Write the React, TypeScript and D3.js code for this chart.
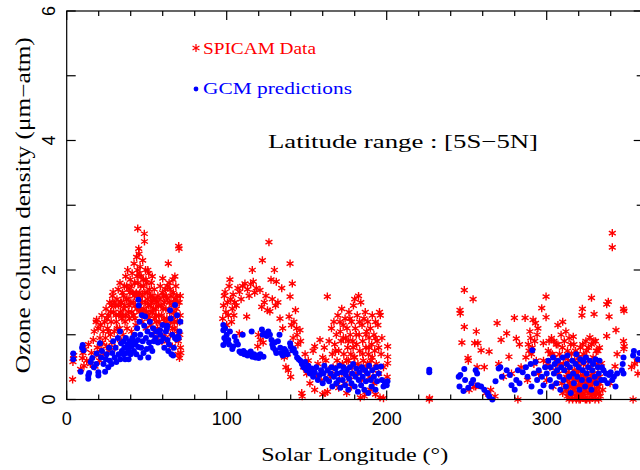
import * as d3 from 'd3'

// [Ls (deg), ozone column (um-atm)]
const spicam: [number, number][] = [
  [3.7,0.31],[3.9,0.58],[4.2,0.63],[4.4,0.68],[8.7,0.47],[9.8,0.64],[10.2,0.72],[10.8,0.52],[11.5,0.78],[12.5,0.6],
  [13.6,0.85],[14.8,0.55],[15.5,0.72],[16.6,0.92],[17.2,1.05],[17.7,0.51],[18.4,1.2],[18.7,1.23],[19.1,0.8],[19.6,1.1],[19.9,0.68],
  [20.5,0.6],[20.8,0.95],[21.2,1.15],[21.5,0.78],[22,1.3],[22.4,0.88],[22.8,1.05],[23.3,0.7],[23.7,1.2],[24.2,0.95],
  [24.6,1.4],[25,0.82],[25.5,1.1],[26,1.3],[26.4,0.75],[26.9,1.5],[27.3,1.0],[27.8,1.2],[28.2,0.88],[28.6,1.6],
  [29,1.66],[29.3,1.35],[29.7,1.05],[30.1,0.8],[30.5,1.45],[31,1.2],[31.4,1.55],[31.8,0.95],[32.2,1.7],[32.6,1.3],
  [33,1.1],[33.3,1.8],[33.7,1.5],[34.1,0.9],[34.5,1.25],[34.9,1.65],
  [35.3,1.0],[35.7,1.4],[36.1,1.75],[36.5,1.2],[36.9,1.9],[37.3,1.55],[37.7,1.1],[38.1,2.0],[38.5,1.35],[38.9,1.7],
  [39.3,1.25],[39.7,1.85],[40.1,1.5],[40.5,1.05],[40.9,1.95],[41.3,1.65],[41.7,1.3],[42.1,2.1],[42.5,1.8],[42.9,1.45],
  [43.3,1.15],[43.7,2.2],[44,1.9],[44.4,2.64],[44.7,1.6],[45,2.33],[45.2,2.25],[45.5,1.35],[45.9,2.05],[46.3,1.75],
  [46.7,1.5],[47.1,1.2],[47.5,2.15],[47.9,1.85],[48.3,1.4],[48.5,2.56],[48.6,2.44],[48.9,1.65],[49.3,2.0],[49.7,1.1],
  [50.1,1.8],[50.5,1.55],[50.9,1.3],[51.3,1.95],[51.7,1.7],[52.1,1.45],[52.5,1.15],[52.9,1.8],[53.3,1.6],[53.7,1.35],
  [54.1,1.0],[54.5,1.55],[54.9,1.25],
  [55.5,1.4],[56,1.2],[56.5,0.95],[57,1.6],[57.5,1.3],[58,1.05],[58.5,1.75],[59,1.45],[59.5,0.9],[60,1.87],
  [60.4,1.6],[60.8,1.25],[61.2,1.0],[61.6,1.7],[62,1.4],[62.4,0.9],[62.8,1.55],[63.3,1.15],[63.5,2.1],[64,1.8],
  [64.4,1.35],[64.8,1.0],[65.2,1.6],[65.6,1.25],[66,0.82],[66.4,1.85],[66.8,1.5],[67.2,1.1],[67.6,1.9],[68,1.3],
  [68.4,0.95],[68.8,1.6],[69.2,1.2],[69.6,0.7],[70,2.37],[70.2,2.33],[70.3,1.5],[70.5,0.64],[70.7,1.0],[70.9,1.3],
  [71.1,0.8],[71.3,0.72],
  [25.2,1.25],[26.2,1.05],[27.5,1.35],[28,1.45],[29.5,1.5],[30.8,1.3],[31.6,1.1],[32.4,1.45],[33.5,1.35],[34.3,1.5],
  [35,1.3],[35.5,1.6],[36.3,1.45],[37,1.3],[37.5,1.75],[38.3,1.55],[39,1.45],[39.5,1.65],[40.3,1.75],[40.7,1.35],
  [41.5,1.5],[42.3,1.6],[42.7,1.25],[43.5,1.65],[43.9,1.4],[44.2,2.0],[44.6,1.8],[45.3,1.95],[45.7,1.65],[46.1,1.4],
  [46.5,1.9],[47.3,1.6],[47.7,1.35],[48.1,1.75],[49.1,1.5],[49.5,1.85],[49.9,1.35],[50.3,1.65],[50.7,2.0],[51.1,1.45],
  [51.5,1.25],[52.3,1.6],[52.7,1.35],[53.1,1.5],[53.5,1.9],[54.3,1.4],[54.7,1.7],[55.2,1.55],[55.8,1.3],[56.3,1.5],
  [56.8,1.1],[57.3,1.45],[57.8,1.2],[58.3,1.55],[59.3,1.3],[59.8,1.65],[60.2,1.4],[61,1.5],[61.4,1.2],[62.2,1.6],
  [62.6,1.25],[63,1.75],[64.2,1.5],[64.6,1.7],[65,1.2],[65.8,1.45],[66.2,1.1],[66.6,1.65],[67,1.35],[67.4,1.2],
  [67.8,1.55],[68.2,1.75],[68.6,1.4],[69,1.05],[69.4,1.5],[69.8,0.9],[70.6,1.2],[71,1.6],
  [97.5,1.25],[98,1.45],[98.5,1.6],[99,1.66],[99.5,1.35],[100,1.15],[100.5,1.5],[101,1.3],[101.5,1.75],[102,1.85],
  [102.5,1.55],[103,1.2],[103.5,1.4],[104,1.62],[104.5,1.3],[105,1.5],[106,1.45],[107,1.72],[107.9,1.02],[108,1.66],
  [109,1.55],[110,1.75],[111.4,1.79],[112.5,1.28],[113,1.7],[114,1.6],[115,1.78],[116,2.0],[116.6,1.82],[117.5,1.65],
  [118.5,1.72],[119.4,0.82],[119.8,1.0],[120.8,1.69],[121,0.92],[121.9,1.43],[122.3,2.15],[122.8,0.88],[123.5,1.5],[124.5,1.6],
  [125.5,1.38],[126.4,2.43],[127,1.36],[127.7,1.85],[128.5,1.55],[129.8,2.0],[130.5,1.45],[131,1.82],[132,1.5],[133.3,1.25],
  [134.4,1.72],[135,1.1],[136,0.65],[137,0.5],[138,0.7],[138.5,0.45],[139,1.28],[139.6,2.1],[139.6,1.59],[140,0.35],
  [140.5,1.15],[141,1.79],[141.5,0.95],[142,1.2],[143,1.38],[143.7,1.1],[144,1.0],[144.5,0.85],[145.8,1.07],[146.2,0.9],
  [146.9,0.1],[147.2,0.05],[148,0.5],[149,0.7],[150,0.4],[151,0.6],[152,0.25],[153,0.45],[154,0.75],[155,0.82],
  [156,0.35],[157,0.55],[158.3,0.92],[159,0.3],[160,0.65],[161,0.8],[161.4,0.1],[162,0.6],[162.9,1.59],[163.5,0.45],
  [164,0.9],[165,0.35],[165.5,1.1],[166,0.7],[166.5,0.5],[167,1.2],[167.5,0.85],[168,0.4],[168.5,1.0],[169,0.6],
  [169.5,1.3],[170,0.75],[170.5,0.3],[171,1.05],[171.5,0.9],[171.9,1.4],[172.3,0.55],[172.8,1.15],[173.2,0.7],[173.6,0.25],
  [174,1.25],[174.4,0.95],[174.8,0.45],[175.2,1.1],[175.6,0.8],[176,0.6],[176.4,1.35],[176.8,0.35],[177.2,1.0],[177.6,0.7],
  [178,1.2],[178.4,0.5],[178.8,0.9],[179.2,1.45],[179.6,0.65],[180,1.55],[180.4,1.1],[180.8,0.4],[181.2,0.85],[181.6,1.3],
  [182,0.55],[182.4,1.6],[182.8,1.0],[183.2,0.75],[183.5,0.03],[183.8,1.5],[184.2,0.3],[184.6,1.15],[185,0.9],[185.4,0.6],
  [185.8,1.25],[186.2,0.45],[186.6,1.35],[187,0.8],[187.4,1.05],[187.8,0.5],[188.2,1.2],[188.6,0.7],[189,0.95],[189.4,0.35],
  [189.8,1.1],[190.2,0.6],[190.6,0.85],[191,1.3],[191.5,0.45],[192,1.0],[192.5,0.75],[193,1.2],[193.5,0.55],[194,0.9],
  [194.5,1.15],[195,0.4],[195.5,1.35],[195.8,0.03],[196,1.3],[196.5,0.7],[197,0.95],[198,0.5],[199,0.25],[200.6,0.82],
  [200.6,0.66],[200.6,0.56],[200.3,0.35],
  [155,0.15],[160,0.08],[163,0.12],[170,0.18],[175,0.1],[178,0.2],[186,0.05],[187,0.12],[190,0.15],[193,0.08],[198,0.02],
  [168,0.75],[170.8,1.2],[173,0.95],[175,0.6],[177,1.25],[179,0.8],[181,1.0],[183,1.2],[185,0.7],[187,1.0],
  [189,0.8],[191,0.65],[193,0.95],[195,0.8],[172,0.4],[176,0.9],[180,0.65],[184,0.5],[188,0.55],[192,0.25],
  [226.6,0.0],[226.8,0.02],
  [245.8,1.38],[246,1.33],[247,0.88],[248.5,1.69],[248.5,1.12],[250.8,0.64],[251,0.6],[251.5,0.15],[254,1.55],[254.5,0.2],
  [255.6,0.2],[255,0.87],[256,1.05],[256.5,0.5],[257,0.87],[259,0.76],[261,0.5],[262,0.1],[264,0.74],[265,0.15],
  [267.7,0.05],[269,1.18],[270,0.55],[271.5,0.92],[273,0.35],[275,1.02],[276.4,0.66],[278,0.4],[279.8,1.26],[281,0.94],
  [282,0.0],[283,0.85],[284,0.5],[286.5,1.26],[287,0.65],[288,0.3],[289,0.75],[290,0.95],[291,0.8],[291.5,1.23],
  [292,0.55],[293,1.18],[294,1.0],[294.5,1.1],[295,0.4],[296.9,1.41],[297.9,0.87],[298,0.6],[299.6,1.59],[299.6,1.27],
  [300,0.3],[301,0.75],[302,0.5],[303,0.95],[304,0.2],[305,0.65],[306,0.85],[307,1.15],[307.5,0.4],[308,0.7],
  [309,1.0],[309.5,0.25],[310,1.2],[310.5,0.55],[311,0.9],[312,1.05],[312.5,0.35],[313,0.75],[313.5,0.1],[314,0.5],
  [314.5,0.2],[315,0.85],[315.5,0.05],[316,0.4],[316.6,0.97],[317,0.15],[317.5,0.6],[318,0.3],[318.5,0.0],[319,0.7],
  [319.5,0.2],[320,0.45],[320.5,0.1],[321,0.8],[321.5,0.25],[322,1.3],[322.3,1.4],[322.6,0.05],[323,0.55],[323.5,0.35],
  [324,0.15],[324.5,0.9],[325,0.0],[325.5,0.5],[326,0.8],[326.5,0.2],[327,0.96],[327.5,0.1],[328,1.57],[328.5,0.4],
  [329,0.65],[329.6,1.32],[330,0.3],[330.5,0.05],[331,0.75],[331.5,0.2],[332,0.5],[332.5,0.0],[333,0.35],[334.3,0.56],
  [335,0.15],[337.5,1.47],[337.5,0.98],[338.5,1.51],[339,1.28],[339.6,0.25],[341,2.57],[341,2.35],[342.7,0.51],[343.3,1.07],
  [344,0.7],[348,1.4],[348.3,1.37],[348,0.9],[348.5,0.82],[348.2,0.78],[353,0.5],[354,0.0],[355,0.55],[356.5,0.6],[357,0.4],
  [288.5,0.85],[289.5,1.05],[290.5,0.7],[292.5,0.9],[293.5,0.6],[303.5,0.7],[304.5,0.9],[306.5,0.55],[311.5,0.65],[314,0.95],
  [318,0.75],[320,0.65],[323,0.7],[326,0.6],[328,0.85],[330.5,0.9],[332,0.75],[319,0.05],[321,0.0],[324,0.02],
  [327,0.0],[329,0.08],[331,0.12],[333.5,0.05],[316,0.1],[314,0.0],[320,0.3],[322,0.18],[325,0.25],[328,0.15],
  [312,0.15],[312.8,0.05],[313.2,0.3],[313.8,0.4],[314.2,0.25],[314.8,0.1],[315.2,0.35],[315.8,0.2],[316.2,0.0],[316.8,0.3],
  [317.2,0.45],[317.8,0.05],[318.2,0.2],[318.8,0.4],[319.2,0.1],[319.8,0.3],[320.2,0.0],[320.8,0.2],[321.2,0.35],[321.8,0.05],
  [322.2,0.25],[322.8,0.4],[323.2,0.1],[323.8,0.3],[324.2,0.0],[324.8,0.2],[325.2,0.35],[325.8,0.1],[326.2,0.28],[326.8,0.0],
  [327.2,0.2],[327.8,0.35],[328.2,0.05],[328.8,0.25],[329.2,0.4],[329.8,0.15],[330.2,0.0],[330.8,0.3],[331.2,0.1],[331.8,0.35],
  [332.2,0.2],[332.8,0.1],[333.2,0.25],[310,0.1],[311,0.3],
  [300.5,0.55],[301.5,0.9],[302.5,0.7],[305.5,0.45],[307,0.85],[308.5,0.55],[309.8,0.8],[311.8,0.45],[313.5,0.6],[315.5,0.7],
  [317,0.85],[319.5,0.55],[321.5,0.6],[322.5,0.85],[324,0.65],[325,0.75],[327.5,0.5],[329.5,0.9],[331.5,0.55],[333,0.8],
]

const gcm: [number, number][] = [
  [4.1,0.71],[4.1,0.62],[8.7,0.43],[9.6,0.8],[10,0.84],[10.5,0.76],[13.5,0.37],[13.5,0.32],[14,0.41],[15,0.58],
  [16,0.64],[17,0.5],[18.5,0.55],[18.7,0.71],[19.8,0.42],[19.8,0.37],
  [20.8,0.87],[21.5,0.65],[22,0.75],[23,0.55],[24,0.43],[24.5,0.62],[25,0.7],[26,0.5],[26.5,0.8],[27,0.6],
  [28,0.55],[28.5,0.72],[29,0.9],[30,0.65],[30.5,0.8],[31,0.58],[32,0.95],[32.5,0.7],[33.3,1.05],[33.5,0.62],
  [34,0.87],[34.5,0.75],[35.6,0.7],[35.6,0.9],[36,0.8],[36.5,0.62],[37,0.95],[37.5,0.72],[38,0.85],[38.7,0.62],
  [38.7,0.77],[39.5,0.9],[40,0.7],
  [40.5,0.82],[41,0.95],[41.6,0.89],[42,0.75],[42.5,1.0],[43,0.85],[43.5,0.7],[44,1.1],[44.5,0.92],[44.8,0.81],
  [44.8,1.54],[45,1.45],[45.5,1.2],[46,0.65],[46,1.0],[46.5,0.8],[47,1.3],[47.5,0.9],[48,0.72],[48.5,1.14],
  [49,1.28],[49.5,0.95],[50,0.78],[50.5,1.05],[51,0.65],[51.5,0.88],[52,1.2],[52.5,0.8],[53,1.0],[53.5,0.75],
  [54,1.1],[54.5,0.9],
  [55.5,0.95],[56,1.05],[57,0.88],[58.3,1.07],[58.5,1.0],[59,0.9],[60,1.15],[60.5,0.95],[61,0.8],[62,1.05],
  [62.6,1.1],[62.8,1.14],[63,0.92],[63.5,0.75],[64,0.85],[64.6,1.38],[65,1.25],[65.5,0.7],[66,1.0],[66.5,0.68],
  [67,0.8],[67.7,1.46],[67.7,0.95],[68.5,0.93],[69,1.3],[69.5,0.97],[70,0.95],[70.5,1.05],[71,1.2],
  [97.9,1.15],[97.9,1.07],[97.9,0.84],[98.5,0.95],[99,1.1],[99.5,0.9],[100,1.0],[101,0.92],[101.5,0.85],[102,1.05],
  [103.5,0.78],[104,0.82],[105,0.97],[106,0.9],[107,0.85],[108,0.74],[109,0.72],[110,1.0],[110.5,0.75],[111,0.7],
  [112,0.72],[113,0.68],[114,0.7],[115,0.74],[115.6,1.05],[116,0.66],[117,0.7],[118,0.65],[119,0.68],[120,0.64],
  [121,0.7],[122,1.08],[122.5,1.0],[123,0.66],[124,1.02],[125,0.98],[126,1.05],[127,1.0],[128,0.92],[128.5,0.85],
  [129,0.8],[130,0.88],[130.5,0.76],[131,0.72],[132,0.9],[133,1.0],[133.5,0.8],[134,0.72],[135,0.68],[136,0.78],
  [137,0.75],[138,0.7],[139.6,0.87],[140,0.82],[141,0.76],[142,0.78],[143,0.72],[144,0.65],[145,0.62],[146,0.6],
  [147,0.55],[148,0.5],[149,0.58],[150,0.45],[151,0.52],[152,0.4],[153,0.48],[154,0.35],[155,0.42],[156,0.5],
  [157,0.3],[158,0.38],[159,0.45],[160,0.25],[160.5,0.4],[161,0.52],[162,0.32],[163,0.45],[164,0.28],[165,0.4],
  [165.5,0.5],[166,0.2],[167,0.35],[168,0.48],[168.5,0.25],[169,0.4],[170,0.3],[170.5,0.52],[171,0.18],[172,0.42],
  [172.5,0.3],[173,0.5],[174,0.22],[174.5,0.38],[175,0.45],[176,0.15],[176.5,0.32],[177,0.5],[178,0.25],[178.5,0.4],
  [179,0.55],[180,0.2],[180.5,0.35],[181,0.48],[182,0.12],[182.5,0.3],[183,0.42],[184,0.22],[184.5,0.5],[185,0.35],
  [186,0.15],[186.5,0.45],[187,0.28],[188,0.4],[188.5,0.1],[189,0.52],[190,0.3],[190.5,0.2],[191,0.45],[192,0.35],
  [193,0.15],[193.5,0.5],[194,0.28],[195,0.4],[196.4,0.51],[197,0.3],[198,0.2],[199,0.25],[200,0.22],[200.5,0.28],
  [226.6,0.46],[226.6,0.42],
  [245,0.35],[245.5,0.2],[246,0.38],[248,0.13],[248.5,0.47],[249,0.3],[251,0.18],[253,0.25],[254,0.3],[255.6,0.45],
  [256.5,0.4],[257,0.22],[259,0.2],[261,0.15],[263,0.1],[264,0.05],[266,0.0],[268,0.28],[270,0.48],[271,0.5],
  [272,0.35],[275,0.45],[277,0.38],[278,0.22],[280,0.15],[281,0.3],[282,0.45],[283,0.25],[285,0.42],[287,0.5],
  [288,0.35],[290,0.55],[290.5,0.2],[291,0.76],[292,0.4],[293,0.58],[294,0.3],[295,0.45],[296,0.12],[297,0.35],
  [298,0.22],[299,0.5],[300,0.4],
  [301,0.6],[302,0.3],[302.5,0.5],[303,0.2],[304,0.65],[304.5,0.4],[305,0.55],[306,0.25],[306.5,0.45],[307,0.6],
  [308,0.35],[308.5,0.15],[309,0.5],[310,0.65],[310.5,0.3],[311,0.45],[312,0.2],[312.5,0.55],[313,0.68],[314,0.35],
  [314.5,0.5],[315,0.1],[316,0.6],[316.5,0.4],[317,0.25],[318,0.55],[318.5,0.7],[319,0.35],[320,0.5],[320.5,0.15],
  [321,0.62],[322,0.3],[322.5,0.45],[323,0.58],[324,0.2],[324.5,0.65],[325,0.4],[326,0.5],[326.5,0.3],[327,0.6],
  [328,0.15],[328.5,0.45],[329,0.55],[330,0.35],[330.5,0.62],[331,0.25],[332,0.5],[332.5,0.4],[333,0.6],[334,0.3],
  [334.5,0.5],
  [335.5,0.45],[336,0.3],[337,0.4],[338,0.25],[339,0.38],[340,0.42],[341,0.3],[342,0.35],[343,0.2],[344,0.4],
  [347,0.45],[347.5,0.55],[348,0.65],[348,0.4],[354,0.68],[354.5,0.75],[357,0.62],[358,0.72],
]

const xMajor = [0, 100, 200, 300]
const yMajor = [0, 2, 4, 6]

const W = 640
const H = 470
const RED = '#ff0000'
const BLUE = '#0000ff'
const SERIF = '"Liberation Serif", serif'
const SANS = '"Liberation Sans", sans-serif'

function starPath(r: number) {
  const segs: string[] = []
  for (const a of [90, 30, 150]) {
    const t = (a * Math.PI) / 180
    const dx = r * Math.cos(t)
    const dy = r * Math.sin(t)
    segs.push(`M${-dx},${-dy}L${dx},${dy}`)
  }
  return segs.join('')
}

export default function App() {
  const x = d3.scaleLinear().domain([0, 360]).range([66.7, 642.7])
  const y = d3.scaleLinear().domain([0, 6]).range([399.5, 11])
  const [x0, x1] = x.range()
  const [y0, y1] = y.range()
  const star = starPath(4)
  const xMinor = d3.range(0, 361, 20).filter(v => !xMajor.includes(v))
  const yMinor = d3.range(0, 7, 1).filter(v => !yMajor.includes(v))
  const xMid = (x0 + x1) / 2
  const yMid = (y0 + y1) / 2

  return (
    <svg width={W} height={H} style={{ position: 'absolute', left: 0, top: 0, background: '#fff' }}>
      <rect width={W} height={H} fill="#fff" />
      <g>
        {spicam.map(([ls, v], i) => (
          <path key={'s' + i} d={star} transform={`translate(${x(ls)},${y(v)})`}
            stroke={RED} strokeWidth={1.4} fill="none" />
        ))}
        {gcm.map(([ls, v], i) => (
          <circle key={'g' + i} cx={x(ls)} cy={y(v)} r={3} fill={BLUE} />
        ))}
      </g>

      {/* frame */}
      <g stroke="#000" strokeWidth={1.2} fill="none">
        <rect x={x0} y={y1} width={x1 - x0} height={y0 - y1} />
        {xMajor.map(v => (
          <g key={'xm' + v}>
            <line x1={x(v)} x2={x(v)} y1={y0} y2={y0 - 9} />
            <line x1={x(v)} x2={x(v)} y1={y1} y2={y1 + 9} />
          </g>
        ))}
        {xMinor.map(v => (
          <g key={'xn' + v}>
            <line x1={x(v)} x2={x(v)} y1={y0} y2={y0 - 5} />
            <line x1={x(v)} x2={x(v)} y1={y1} y2={y1 + 5} />
          </g>
        ))}
        {yMajor.map(v => (
          <g key={'ym' + v}>
            <line x1={x0} x2={x0 + 9} y1={y(v)} y2={y(v)} />
            <line x1={x1} x2={x1 - 9} y1={y(v)} y2={y(v)} />
          </g>
        ))}
        {yMinor.map(v => (
          <g key={'yn' + v}>
            <line x1={x0} x2={x0 + 9} y1={y(v)} y2={y(v)} />
            <line x1={x1} x2={x1 - 6} y1={y(v)} y2={y(v)} />
          </g>
        ))}
      </g>

      {/* tick labels */}
      <g fontFamily={SANS} fontSize={18} fill="#000">
        {xMajor.map(v => (
          <text key={'xl' + v} x={x(v)} y={425} textAnchor="middle">{v}</text>
        ))}
        {yMajor.map(v => (
          <text key={'yl' + v} transform={`translate(55,${y(v)}) rotate(-90)`} textAnchor="middle">{v}</text>
        ))}
      </g>

      {/* axis titles */}
      <text x={xMid} y={461} textAnchor="middle" fontFamily={SERIF} fontSize={19}
        textLength={187} lengthAdjust="spacingAndGlyphs">Solar Longitude (°)</text>
      <text transform={`translate(30,${yMid}) rotate(-90)`} textAnchor="middle" fontFamily={SERIF} fontSize={20}
        textLength={336} lengthAdjust="spacingAndGlyphs">
        Ozone column density (μm−atm)
      </text>

      {/* legend */}
      <path d={star} transform="translate(196,48)" stroke={RED} strokeWidth={1.2} fill="none" />
      <text x={203} y={54} fontFamily={SERIF} fontSize={16.5} fill={RED}
        textLength={113} lengthAdjust="spacingAndGlyphs">SPICAM Data</text>
      <circle cx={196} cy={89} r={2.4} fill={BLUE} />
      <text x={203} y={94} fontFamily={SERIF} fontSize={16.5} fill={BLUE}
        textLength={149} lengthAdjust="spacingAndGlyphs">GCM predictions</text>

      <text x={268} y={148} fontFamily={SERIF} fontSize={19.5} fill="#000"
        textLength={270} lengthAdjust="spacingAndGlyphs">Latitude range : [5S−5N]</text>
    </svg>
  )
}
